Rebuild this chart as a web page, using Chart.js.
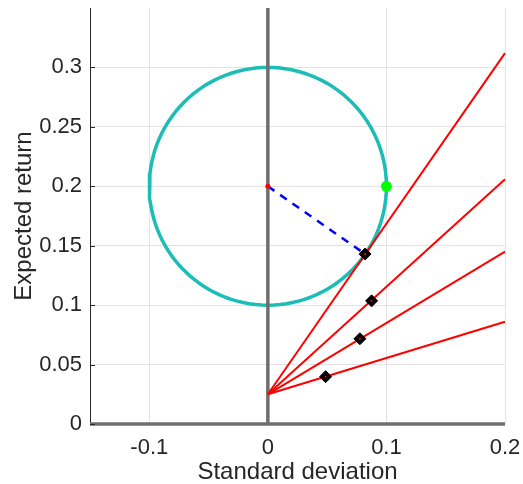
<!DOCTYPE html>
<html>
<head>
<meta charset="utf-8">
<script src="https://cdn.jsdelivr.net/npm/chart.js@4"></script>
<style>
  html, body { margin: 0; padding: 0; background: #fff; }
  canvas { display: block; }
</style>
</head>
<body>
<canvas id="chart" width="523" height="484"></canvas>
<script>
// Chart data
const xTicks = [-0.1, 0, 0.1, 0.2];
const yTicks = [0, 0.05, 0.1, 0.15, 0.2, 0.25, 0.3];
const riskFree = 0.025;
const lineEndX = 0.2;
const lineEndY = [0.312, 0.206, 0.145, 0.086];
const portfolioX = [0.082, 0.0875, 0.0776, 0.0487];
const portfolioY = [0.143, 0.1036, 0.0717, 0.0398];
const circleCenter = [0, 0.2];
const circleRadius = 0.1;
const greenPoint = [0.1, 0.2];
const tangentPoint = [0.082, 0.143];

const textColor = '#262626';
const font = "'Liberation Sans', Arial, Helvetica, sans-serif";

// circle outline from its center and radius
const circlePts = [];
for (let i = 0; i <= 120; i++) {
    const a = i / 120 * 2 * Math.PI;
    circlePts.push({ x: circleCenter[0] + circleRadius * Math.cos(a), y: circleCenter[1] + circleRadius * Math.sin(a) });
}

const redLines = lineEndY.map(y => ({
    data: [{ x: 0, y: riskFree }, { x: lineEndX, y: y }],
    borderColor: '#ff0000', borderWidth: 2, pointRadius: 0, showLine: true, clip: 4
}));

const diamonds = portfolioX.map((x, i) => ({ x: x, y: portfolioY[i] }));

// small tick marks pointing into the plot from the left axis
const innerTicks = {
    id: 'innerTicks',
    afterDatasetsDraw(chart) {
        const ctx = chart.ctx;
        const y = chart.scales.y;
        const left = chart.chartArea.left;
        ctx.save();
        ctx.strokeStyle = textColor;
        ctx.lineWidth = 1;
        y.ticks.forEach(t => {
            const py = Math.round(y.getPixelForValue(t.value)) + 0.5;
            ctx.beginPath();
            ctx.moveTo(left, py);
            ctx.lineTo(left + 5, py);
            ctx.stroke();
        });
        ctx.restore();
    }
};

new Chart(document.getElementById('chart'), {
    type: 'scatter',
    data: {
        datasets: [
            { data: diamonds, pointStyle: 'circle', pointRadius: 1, backgroundColor: '#ff0000', borderWidth: 0 },
            { data: diamonds, pointStyle: 'rectRot', pointRadius: 6, backgroundColor: '#000000', borderColor: '#000000', borderWidth: 1 },
            { data: [{ x: greenPoint[0], y: greenPoint[1] }], pointRadius: 5.5, backgroundColor: '#00ff00', borderColor: '#00ff00', borderWidth: 0 },
            { data: [{ x: circleCenter[0], y: circleCenter[1] }], pointRadius: 2.5, backgroundColor: '#ff0000', borderWidth: 0, clip: 4 },
            ...redLines,
            {
                data: [{ x: circleCenter[0], y: circleCenter[1] }, { x: tangentPoint[0], y: tangentPoint[1] }],
                showLine: true, borderColor: '#0000ff', borderWidth: 2.5, borderDash: [8, 7], pointRadius: 0
            },
            {
                data: [{ x: 0, y: 0 }, { x: 0, y: 0.35 }],
                showLine: true, borderColor: '#6e6e6e', borderWidth: 3.5, pointRadius: 0, clip: 4
            },
            {
                data: [{ x: -0.15, y: 0 }, { x: 0.2, y: 0 }],
                showLine: true, borderColor: '#6e6e6e', borderWidth: 3.5, pointRadius: 0, clip: 4
            },
            {
                data: circlePts,
                showLine: true, borderColor: '#1bbdb6', borderWidth: 3.5, pointRadius: 0, tension: 0,
                borderJoinStyle: 'round', borderCapStyle: 'round'
            }
        ]
    },
    options: {
        responsive: false,
        animation: false,
        events: [],
        layout: { padding: { top: 8, right: 18, left: 0, bottom: 0 } },
        plugins: { legend: { display: false }, tooltip: { enabled: false } },
        scales: {
            x: {
                type: 'linear', min: -0.15, max: 0.2,
                afterBuildTicks: s => { s.ticks = xTicks.map(v => ({ value: v })); },
                afterFit: s => { s.height = 60; s.paddingLeft = 0; s.paddingRight = 0; },
                grid: { color: '#e3e3e3', drawTicks: false },
                border: { display: false },
                ticks: {
                    padding: 11, color: textColor, font: { family: font, size: 22 },
                    maxRotation: 0, callback: v => String(+v.toFixed(3))
                },
                title: {
                    display: true, text: 'Standard deviation', color: textColor,
                    font: { family: font, size: 24, lineHeight: 1 }, padding: { top: 0, bottom: 0 }
                }
            },
            y: {
                type: 'linear', min: 0, max: 0.35,
                afterBuildTicks: s => { s.ticks = yTicks.map(v => ({ value: v })); },
                afterFit: s => { s.width = 90; s.paddingTop = 0; s.paddingBottom = 0; },
                grid: { color: '#e3e3e3', drawTicks: false },
                border: { display: true, color: textColor, width: 1 },
                ticks: {
                    padding: 8, color: textColor, font: { family: font, size: 22 },
                    callback: v => String(+v.toFixed(3))
                },
                title: {
                    display: true, text: 'Expected return', color: textColor,
                    font: { family: font, size: 24 }, padding: { top: 10, bottom: 0 }
                }
            }
        }
    },
    plugins: [innerTicks]
});
</script>
</body>
</html>
